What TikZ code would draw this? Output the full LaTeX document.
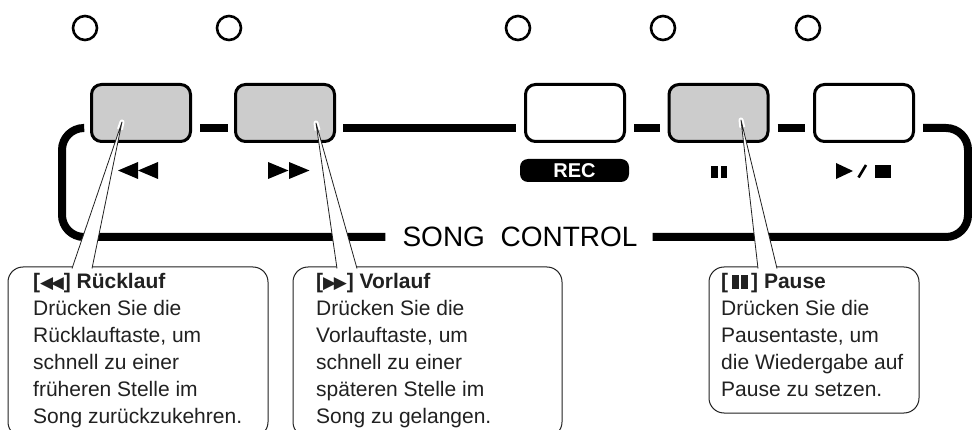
\documentclass[tikz,border=0pt]{standalone}
\usepackage{fontspec}
\setmainfont{Liberation Sans}
\newfontfamily\symfont{DejaVu Sans}
\usetikzlibrary{calc}
\definecolor{keygray}{gray}{0.8}
\definecolor{ink}{gray}{0.13}
\newcommand\titlesym[1]{{\symfont\fontsize{17}{17}\selectfont #1\kern-2.5pt#1}}
\tikzset{
  btn/.style={draw, line width=3pt, rounded corners=10pt, minimum width=99pt, minimum height=57pt, inner sep=0pt},
  led/.style={draw, circle, line width=2.6pt, minimum size=24pt, inner sep=0pt},
  bar/.style={line width=8pt},
  reclbl/.style={fill=black, text=white, rounded corners=8pt, minimum width=109pt, minimum height=23pt, inner sep=0pt, font=\bfseries\fontsize{20}{20}\selectfont},
  callout/.style={draw=ink, line width=1pt, fill=white, rounded corners=15pt, inner sep=0pt, outer sep=0pt, anchor=north west},
  calltext/.style={anchor=north west, align=left, inner sep=0pt, text=ink, font=\fontsize{21}{27}\selectfont},
  halo/.style={draw=white, line width=5pt, line join=round},
  wedge/.style={draw=ink, line width=0.8pt, fill=white, line join=round},
}

\begin{document}
\begin{tikzpicture}[x=1pt,y=-1pt]
\useasboundingbox (0,0) rectangle (972,430);
% lamps
\foreach \lx [count=\i] in {85,229,518,663,808}
  \node[led] (led\i) at (\lx,28) {};
% keys
\node[btn,fill=keygray] (rew) at (141,113) {};
\node[btn,fill=keygray] (fwd) at (285,113) {};
\node[btn,fill=white] (rec) at (575,113) {};
\node[btn,fill=keygray] (pause) at (718.5,113) {};
\node[btn,fill=white] (play) at (864,113) {};
\draw[bar] ([shift={(8,15)}]rew.east) -- ([shift={(-6,15)}]fwd.west);
\draw[bar] ([shift={(7,15)}]fwd.east) -- ([shift={(-8,15)}]rec.west);
\draw[bar] ([shift={(8,15)}]rec.east) -- ([shift={(-8,15)}]pause.west);
\draw[bar] ([shift={(8,15)}]pause.east) -- ([shift={(-8,15)}]play.west);
% frame
\node[inner sep=0pt,font=\fontsize{28}{28}\selectfont] (songctl) at (520,237) {SONG\ \ CONTROL};
\draw[bar,rounded corners=22pt] ([xshift=-17pt]songctl.west) -- (62,237) -- (62,128) -- ([shift={(-7,15)}]rew.west);
\draw[bar,rounded corners=22pt] ([xshift=15pt]songctl.east) -- (968,237) -- (968,128) -- ([shift={(8,15)}]play.east);
% key symbols
\foreach \tx in {118,138}
  \fill (\tx,170.5) -- ++(20,-8.5) -- ++(0,17) -- cycle;
\foreach \tx in {268,289}
  \fill (\tx,162) -- ++(20.5,8.5) -- ++(-20.5,8.5) -- cycle;
\node[reclbl] (reclabel) at (574.5,170.5) {REC};
\fill (711,166) rectangle (717.5,178);
\fill (720.5,166) rectangle (727,178);
\fill (836,163) -- (853,171) -- (836,179) -- cycle;
\draw[line width=2.6pt] (858.5,177.5) -- (866,165);
\fill (875,165) rectangle (891,178);
% callouts
\node[callout,minimum width=260pt,minimum height=170pt] (rewbox) at (8,267) {};
\node[callout,minimum width=269pt,minimum height=170pt] (fwdbox) at (293,267) {};
\node[callout,minimum width=210pt,minimum height=146pt] (pausebox) at (709,267) {};
\coordinate (rewtip) at ($(rew)+(-19,9)$);
\coordinate (fwdtip) at ($(fwd)+(31,10)$);
\coordinate (pausetip) at ($(pause)+(22.5,7)$);
\coordinate (rewA) at ([shift={(64,1.5)}]rewbox.north west);
\coordinate (rewB) at ([shift={(84,1.5)}]rewbox.north west);
\coordinate (fwdA) at ([shift={(44,1.5)}]fwdbox.north west);
\coordinate (fwdB) at ([shift={(64,1.5)}]fwdbox.north west);
\coordinate (pauseA) at ([shift={(49,1.5)}]pausebox.north west);
\coordinate (pauseB) at ([shift={(68,1.5)}]pausebox.north west);
\foreach \k in {rew,fwd,pause} {
  \draw[halo] ($(\k A)!0.95!(\k tip)$) -- (\k tip) -- ($(\k B)!0.95!(\k tip)$);
  \draw[wedge] (\k A) -- (\k tip) -- (\k B);
}
\node[calltext] (rewtext) at (33,273.5) {\textbf{[\titlesym{◀}] Rücklauf}\\Drücken Sie die\\Rücklauftaste, um\\schnell zu einer\\früheren Stelle im\\Song zurückzukehren.};
\node[calltext] (fwdtext) at (316,273.5) {\textbf{[\titlesym{▶}] Vorlauf}\\Drücken Sie die\\Vorlauftaste, um\\schnell zu einer\\späteren Stelle im\\Song zu gelangen.};
\node[calltext] (pausetext) at (721,273.5) {\textbf{[\,\rule{7pt}{14pt}\hspace{2pt}\rule{7pt}{14pt}\,] Pause}\\Drücken Sie die\\Pausentaste, um\\die Wiedergabe auf\\Pause zu setzen.};
\end{tikzpicture}
\end{document}
